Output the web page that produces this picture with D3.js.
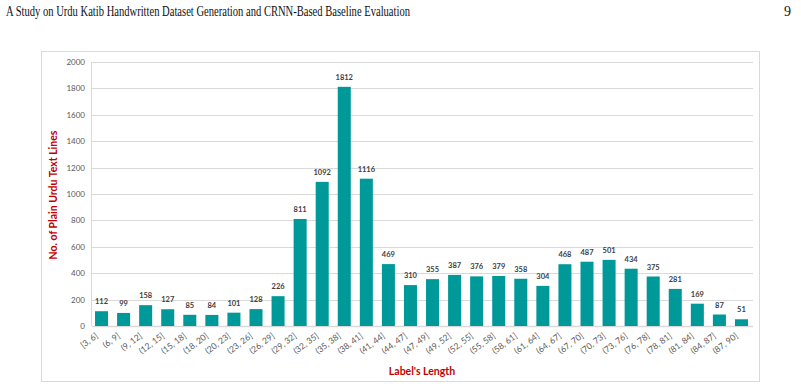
<!DOCTYPE html>
<html>
<head>
<meta charset="utf-8">
<script src="https://cdn.jsdelivr.net/npm/d3@7"></script>
<style>
  body { margin: 0; background: #fff; }
  svg { display: block; }
</style>
</head>
<body>
<div id="chart"></div>
<script>
const WIDTH = 801;
const HEIGHT = 389;
const HEADER = 'A Study on Urdu Katib Handwritten Dataset Generation and CRNN-Based Baseline Evaluation';
const PAGE_NO = '9';
const Y_TITLE = 'No. of Plain Urdu Text Lines';
const X_TITLE = "Label's Length";

const categories = ['[3, 6]', '(6, 9]', '(9, 12]', '(12, 15]', '(15, 18]', '(18, 20]', '(20, 23]', '(23, 26]',
  '(26, 29]', '(29, 32]', '(32, 35]', '(35, 38]', '(38, 41]', '(41, 44]', '(44, 47]', '(47, 49]', '(49, 52]',
  '(52, 55]', '(55, 58]', '(58, 61]', '(61, 64]', '(64, 67]', '(67, 70]', '(70, 73]', '(73, 76]', '(76, 78]',
  '(78, 81]', '(81, 84]', '(84, 87]', '(87, 90]'];
const counts = [112, 99, 158, 127, 85, 84, 101, 128, 226, 811, 1092, 1812, 1116, 469, 310, 355, 387, 376,
  379, 358, 304, 468, 487, 501, 434, 375, 281, 169, 87, 51];
const yTicks = [0, 200, 400, 600, 800, 1000, 1200, 1400, 1600, 1800, 2000];

const BAR_COLOR = '#009999';
const RED = '#c00000';
const GRID = '#d9d9d9';
const FONT = 'Lato, "Open Sans", sans-serif';

const svg = d3.select('#chart').append('svg')
  .attr('width', WIDTH)
  .attr('height', HEIGHT);

// page header
svg.append('text')
  .attr('x', 6)
  .attr('y', 16)
  .attr('font-family', '"Liberation Serif", serif')
  .attr('font-size', 15)
  .attr('fill', '#111')
  .attr('textLength', 404)
  .attr('lengthAdjust', 'spacingAndGlyphs')
  .text(HEADER);
svg.append('text')
  .attr('x', 791)
  .attr('y', 16)
  .attr('text-anchor', 'end')
  .attr('font-family', '"Liberation Serif", serif')
  .attr('font-size', 14)
  .attr('fill', '#111')
  .text(PAGE_NO);

// chart frame
svg.append('rect')
  .attr('x', 41.5)
  .attr('y', 51.5)
  .attr('width', 718)
  .attr('height', 330)
  .attr('fill', 'none')
  .attr('stroke', GRID);

const x = d3.scaleBand()
  .domain(categories)
  .range([90.5, 752.5])
  .paddingInner(0.41)
  .paddingOuter(0.205);
const y = d3.scaleLinear()
  .domain([0, 2000])
  .range([326, 62]);

// gridlines
svg.append('g')
  .selectAll('line')
  .data(yTicks)
  .enter()
  .append('line')
  .attr('x1', 92)
  .attr('x2', 753)
  .attr('y1', d => Math.round(y(d)) + 0.5)
  .attr('y2', d => Math.round(y(d)) + 0.5)
  .attr('stroke', GRID)
  .attr('stroke-width', d => d === 0 ? 1.5 : 1.2);
svg.append('line')
  .attr('x1', 91.5)
  .attr('x2', 91.5)
  .attr('y1', 62)
  .attr('y2', 326)
  .attr('stroke', GRID);

// y axis
const yAxis = d3.axisLeft(y).tickValues(yTicks).tickFormat(d3.format('d')).tickSize(0).tickPadding(0);
svg.append('g')
  .attr('transform', 'translate(85, 0)')
  .call(yAxis)
  .call(g => g.select('.domain').remove())
  .selectAll('text')
  .attr('font-family', FONT)
  .attr('font-size', 8)
  .attr('fill', '#595959');

// bars
svg.append('g')
  .selectAll('rect')
  .data(counts)
  .enter()
  .append('rect')
  .attr('x', (d, i) => x(categories[i]))
  .attr('width', x.bandwidth())
  .attr('y', d => y(d))
  .attr('height', d => y(0) - y(d))
  .attr('fill', BAR_COLOR);

// value labels
svg.append('g')
  .selectAll('text')
  .data(counts)
  .enter()
  .append('text')
  .attr('x', (d, i) => x(categories[i]) + x.bandwidth() / 2)
  .attr('y', d => y(d) - 7)
  .attr('text-anchor', 'middle')
  .attr('font-family', FONT)
  .attr('font-size', 7.5)
  .attr('font-weight', 'bold')
  .attr('fill', '#404040')
  .text(d => d);

// x axis labels
const xAxis = d3.axisBottom(x).tickSize(0).tickPadding(0);
svg.append('g')
  .attr('transform', 'translate(0, 326)')
  .call(xAxis)
  .call(g => g.select('.domain').remove())
  .selectAll('text')
  .attr('font-family', FONT)
  .attr('font-size', 8.5)
  .attr('fill', '#595959')
  .attr('text-anchor', 'end')
  .attr('dy', null)
  .attr('y', 0)
  .attr('transform', 'translate(-3, 11) rotate(-37)');

// axis titles
svg.append('text')
  .attr('x', 422)
  .attr('y', 375)
  .attr('text-anchor', 'middle')
  .attr('font-family', FONT)
  .attr('font-size', 10.5)
  .attr('font-weight', 'bold')
  .attr('fill', RED)
  .text(X_TITLE);
svg.append('text')
  .attr('transform', 'translate(57, 195) rotate(-90)')
  .attr('text-anchor', 'middle')
  .attr('font-family', FONT)
  .attr('font-size', 10.5)
  .attr('font-weight', 'bold')
  .attr('fill', RED)
  .text(Y_TITLE);
</script>
</body>
</html>
